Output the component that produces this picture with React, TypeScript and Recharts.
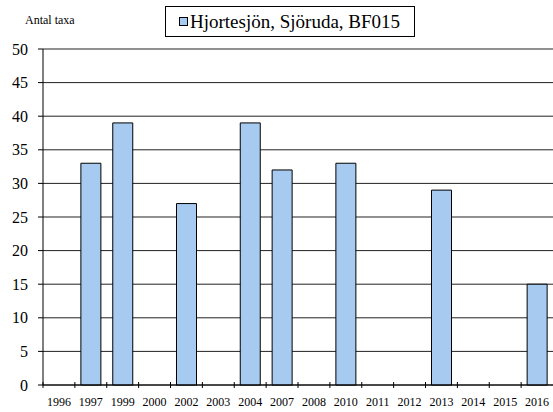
import React from 'react';
import { BarChart, Bar, XAxis, YAxis, CartesianGrid, Legend } from 'recharts';

const years = ['1996', '1997', '1999', '2000', '2002', '2003', '2004', '2007', '2008', '2010', '2011', '2012', '2013', '2014', '2015', '2016'];
const taxa = [0, 33, 39, 0, 27, 0, 39, 32, 0, 33, 0, 0, 29, 0, 0, 15];
const yTicks = [0, 5, 10, 15, 20, 25, 30, 35, 40, 45, 50];

const SERIES = 'Hjortesjön, Sjöruda, BF015';
const FONT = '"Liberation Serif", "Times New Roman", serif';

const data = years.map((y, i) => ({ year: y, value: taxa[i] }));

const W = 553;
const H = 412;
const LEFT = 43;
const BAND = (W - LEFT) / years.length;

// category label centred, tick mark at the category's left edge, crossing the axis
const YearTick = (props: any) => {
  const { x, y, payload } = props;
  return (
    <g>
      <line x1={x - BAND / 2} y1={y - 3} x2={x - BAND / 2} y2={y + 3} stroke="#000" />
      <text x={x} y={y + 21} textAnchor="middle" fontSize={12} fontFamily={FONT} fill="#000">
        {payload.value}
      </text>
    </g>
  );
};

const LegendBox = () => (
  <div
    style={{
      position: 'absolute',
      left: 165,
      top: 6,
      width: 250,
      height: 31,
      border: '1px solid #000',
      boxSizing: 'border-box',
      display: 'flex',
      alignItems: 'center',
      paddingLeft: 13,
      fontFamily: FONT,
      fontSize: 19,
      background: '#fff',
      whiteSpace: 'nowrap',
    }}
  >
    <span style={{ display: 'inline-block', width: 7, height: 7, background: '#a6caf0', border: '1px solid #000', marginRight: 2 }} />
    {SERIES}
  </div>
);

const App: React.FC = () => {
  return (
    <div style={{ position: 'absolute', left: 0, top: 0, width: W, height: H, background: '#fff', fontFamily: FONT }}>
      <div style={{ position: 'absolute', left: 25, top: 13, fontFamily: FONT, fontSize: 12 }}>Antal taxa</div>
      <BarChart width={W} height={H} data={data} margin={{ top: 49, right: 0, left: 0, bottom: 0 }} barSize={20}>
        <CartesianGrid vertical={false} stroke="#222" />
        <XAxis
          dataKey="year"
          axisLine={{ stroke: '#000' }}
          tickLine={false}
          tickSize={0}
          tickMargin={0}
          tick={<YearTick />}
          interval={0}
          height={27}
        />
        <YAxis
          width={LEFT}
          domain={[0, 50]}
          ticks={yTicks}
          axisLine={{ stroke: '#000' }}
          tickLine={{ stroke: '#000' }}
          tickSize={5}
          tickMargin={10}
          tick={{ fill: '#000', fontSize: 16, fontFamily: FONT }}
        />
        <Legend content={() => <LegendBox />} wrapperStyle={{ top: 0, left: 0 }} />
        <Bar dataKey="value" name={SERIES} fill="#a6caf0" stroke="#000" strokeWidth={1} isAnimationActive={false} />
      </BarChart>
    </div>
  );
};

export default App;
